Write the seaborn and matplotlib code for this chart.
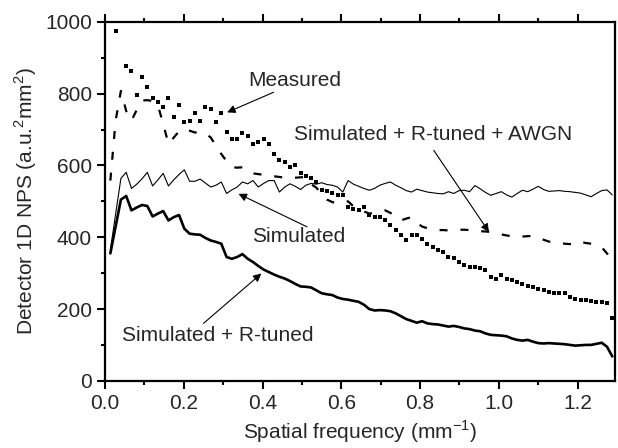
import numpy as np
import pandas as pd
import seaborn as sns
import matplotlib.pyplot as plt
from matplotlib.ticker import MultipleLocator

# spatial frequency sampling grid (mm^-1)
freq = np.arange(1, 97) * 0.01342

simulated = [364, 465, 564, 581, 536, 548, 563, 581, 543, 560,
             578, 543, 560, 575, 588, 556, 556, 562, 551, 540,
             545, 554, 522, 532, 540, 554, 549, 558, 540, 550,
             558, 558, 526, 540, 549, 542, 533, 545, 550, 548,
             552, 547, 545, 540, 526, 558, 548, 542, 536, 531,
             536, 545, 550, 554, 545, 538, 530, 526, 534, 530,
             526, 524, 522, 521, 527, 522, 530, 531, 527, 544,
             535, 525, 517, 522, 527, 518, 512, 522, 531, 527,
             534, 542, 533, 528, 529, 530, 528, 527, 525, 523,
             518, 513, 522, 530, 532, 518]

sim_rtuned = [355, 430, 505, 515, 475, 483, 490, 487, 458, 466,
              473, 447, 456, 462, 424, 410, 408, 407, 398, 391,
              387, 382, 345, 340, 345, 353, 340, 331, 320, 310,
              303, 296, 290, 285, 278, 270, 263, 262, 260, 252,
              244, 241, 239, 232, 228, 226, 223, 220, 212, 200,
              196, 197, 196, 194, 188, 180, 172, 167, 162, 166,
              160, 158, 157, 154, 151, 153, 150, 146, 144, 140,
              138, 132, 128, 127, 126, 124, 118, 114, 112, 114,
              109, 105, 104, 105, 104, 103, 102, 100, 98, 99,
              100, 100, 103, 106, 95, 68]

sim_awgn = [558, 725, 808, 752, 725, 755, 781, 782, 780, 768,
            716, 660, 678, 695, 702, 697, 692, 692, 690, 678,
            655, 632, 612, 595, 594, 595, 586, 578, 576, 574,
            572, 570, 568, 566, 566, 566, 567, 568, 548, 538,
            520, 505, 498, 495, 500, 500, 486, 478, 472, 466,
            468, 470, 475, 468, 458, 447, 452, 456, 440, 430,
            425, 422, 420, 420, 419, 420, 421, 421, 420, 418,
            417, 416, 415, 412, 408, 405, 403, 401, 402, 403,
            404, 400, 393, 388, 385, 384, 382, 381, 380, 387,
            384, 382, 380, 372, 355, 338]

measured = [np.nan, 975, np.nan, 876, 862, 796, 847, 818, 787, 778,
            764, 787, 734, 768, 720, 725, 746, 725, 762, 757,
            722, 745, 692, 674, 674, 690, 681, 660, 665, 674,
            660, 632, 616, 609, 595, 600, 578, 572, 565, 554,
            531, 528, 522, 517, 519, 484, 480, 475, 484, 461,
            456, 456, 447, 433, 419, 406, 392, 406, 406, 396,
            382, 373, 364, 359, 345, 341, 331, 322, 318, 316,
            313, 308, 290, 285, 294, 285, 281, 276, 269, 265,
            260, 256, 252, 248, 244, 246, 245, 234, 229, 226,
            224, 222, 220, 220, 218, 174]

df = pd.DataFrame({'freq': freq, 'sim': simulated, 'rtuned': sim_rtuned,
                   'awgn': sim_awgn, 'meas': measured})

sns.set_style('ticks')
plt.rcParams['font.family'] = ['Liberation Sans', 'DejaVu Sans']
plt.rcParams['mathtext.fontset'] = 'custom'
plt.rcParams['mathtext.rm'] = 'Liberation Sans'
plt.rcParams['font.size'] = 15

fig = plt.figure(figsize=(6.18, 4.48), dpi=100)
ax = fig.add_axes([0.170, 0.150, 0.825, 0.801])

sns.lineplot(data=df, x='freq', y='sim', color='black', lw=0.8, ax=ax)
sns.lineplot(data=df, x='freq', y='rtuned', color='black', lw=1.9, ax=ax)
sns.lineplot(data=df, x='freq', y='awgn', color='black', lw=1.6, ax=ax,
             dashes=False)
ax.lines[-1].set_dashes((3.6, 5.8))
sns.scatterplot(data=df, x='freq', y='meas', color='black', marker='s',
                s=5, linewidth=0, ax=ax)

ax.set_xlim(0, 1.295)
ax.set_ylim(0, 1000)
ax.xaxis.set_major_locator(MultipleLocator(0.2))
ax.xaxis.set_minor_locator(MultipleLocator(0.1))
ax.yaxis.set_major_locator(MultipleLocator(200))
ax.yaxis.set_minor_locator(MultipleLocator(100))
ax.xaxis.set_major_formatter(plt.FuncFormatter(lambda v, p: '%.1f' % v))
ax.tick_params(which='both', direction='out', top=True, width=1.5,
               labelsize=15, color='black')
ax.tick_params(which='major', length=6)
ax.tick_params(which='minor', length=3)
for s in ax.spines.values():
    s.set_linewidth(1.6)
    s.set_color('black')

ax.set_xlabel('Spatial frequency (mm$^{-1}$)', fontsize=15)
ax.set_ylabel('Detector 1D NPS (a.u.$^2$mm$^2$)', fontsize=15)

arw = dict(arrowstyle='-|>', color='black', lw=0.8, shrinkA=0, shrinkB=0,
           mutation_scale=12)
ax.text(0.364, 836, 'Measured', va='center', ha='left', fontsize=15)
ax.annotate('', xy=(0.31, 748), xytext=(0.428, 804), arrowprops=arw)
ax.text(0.479, 685, 'Simulated + R-tuned + AWGN', va='center', ha='left', fontsize=15)
ax.annotate('', xy=(0.975, 415), xytext=(0.835, 642), arrowprops=arw)
ax.text(0.373, 401, 'Simulated', va='center', ha='left', fontsize=15)
ax.annotate('', xy=(0.339, 521), xytext=(0.513, 429), arrowprops=arw)
ax.text(0.042, 125, 'Simulated + R-tuned', va='center', ha='left', fontsize=15)
ax.annotate('', xy=(0.397, 299), xytext=(0.25, 160), arrowprops=arw)

plt.savefig('out.png', dpi=100)
